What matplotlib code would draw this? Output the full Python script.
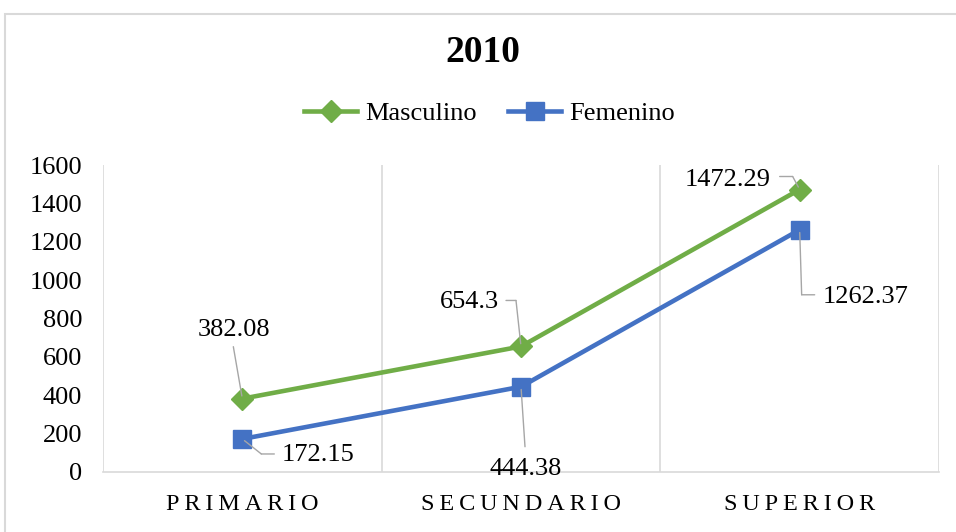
import matplotlib.pyplot as plt
from matplotlib.patches import Rectangle
from matplotlib.transforms import ScaledTranslation

plt.rcParams['font.family'] = ['Liberation Serif', 'DejaVu Serif']

categories = ['PRIMARIO', 'SECUNDARIO', 'SUPERIOR']
masculino = [382.08, 654.3, 1472.29]
femenino = [172.15, 444.38, 1262.37]
yticks = [0, 200, 400, 600, 800, 1000, 1200, 1400, 1600]

green = '#70AD47'
blue = '#4472C4'
grid = '#D9D9D9'
leader = '#A6A6A6'

fig = plt.figure(figsize=(9.56, 5.32), dpi=100)
ax = fig.add_axes([103/956, 1-472/532, (939-103)/956, (472-165)/532])

x = range(len(categories))
ax.plot(x, masculino, color=green, lw=3.3, marker='D', ms=11, label='Masculino', zorder=3)
ax.plot(x, femenino, color=blue, lw=3.3, marker='s', ms=13, label='Femenino', zorder=3)

ax.set_xlim(-0.5, 2.5)
ax.set_ylim(0, 1600)
ax.set_yticks(yticks)
ax.set_xticks(list(x))
ax.set_xticklabels(['\u2009'.join(c) for c in categories])
ax.tick_params(axis='y', length=0, pad=15, labelsize=19)
ax.tick_params(axis='x', length=0, pad=16, labelsize=17.5)

for b in [-0.5, 0.5, 1.5, 2.5]:
    ax.axvline(b, color=grid, lw=1.2, zorder=1)
for s in ['top', 'left', 'right']:
    ax.spines[s].set_visible(False)
ax.spines['bottom'].set_color(grid)
ax.spines['bottom'].set_linewidth(1.2)

# data labels: text offset, leader start and corner (pixels from the point)
text_m = [(-8, 69), (-52, 44), (-72, 10)]
start_m = [(-9, 52), (-15, 46), (-20, 13)]
corner_m = [(-9, 52), (-5, 46), (-7, 13)]
text_f = [(76, -16), (5, -82), (66, -67)]
start_f = [(32, -15), (4, -60), (15, -65)]
corner_f = [(19, -15), (4, -60), (2, -65)]


def label(i, v, txt, start, corner):
    ax.annotate(f'{v:g}', (i, v), xytext=txt, textcoords='offset pixels',
                ha='center', va='center', fontsize=19)
    ct = ax.transData + ScaledTranslation(corner[0]/100, corner[1]/100, fig.dpi_scale_trans)
    ax.annotate('', (i, v), xycoords=ct,
                xytext=(start[0]-corner[0], start[1]-corner[1]), textcoords='offset pixels',
                arrowprops=dict(arrowstyle='-', color=leader, lw=1, shrinkA=0, shrinkB=0))
    ax.annotate('', (i, v), xytext=corner, textcoords='offset pixels',
                arrowprops=dict(arrowstyle='-', color=leader, lw=1, shrinkA=0, shrinkB=2))


for i in x:
    label(i, masculino[i], text_m[i], start_m[i], corner_m[i])
    label(i, femenino[i], text_f[i], start_f[i], corner_f[i])

fig.text(0.505, 1-52/532, '2010', ha='center', va='center', fontsize=27, fontweight='bold')
fig.legend(loc='center', bbox_to_anchor=(0.512, 1-113/532), ncol=2, frameon=False,
           fontsize=19, handlelength=2.0, handletextpad=0.3, columnspacing=1.2)

fig.patches.append(Rectangle((5/956, -0.1), 1.1, 1.1-14/532, transform=fig.transFigure,
                             fill=False, edgecolor=grid, lw=1.5))

fig.savefig('out.png', dpi=100)
